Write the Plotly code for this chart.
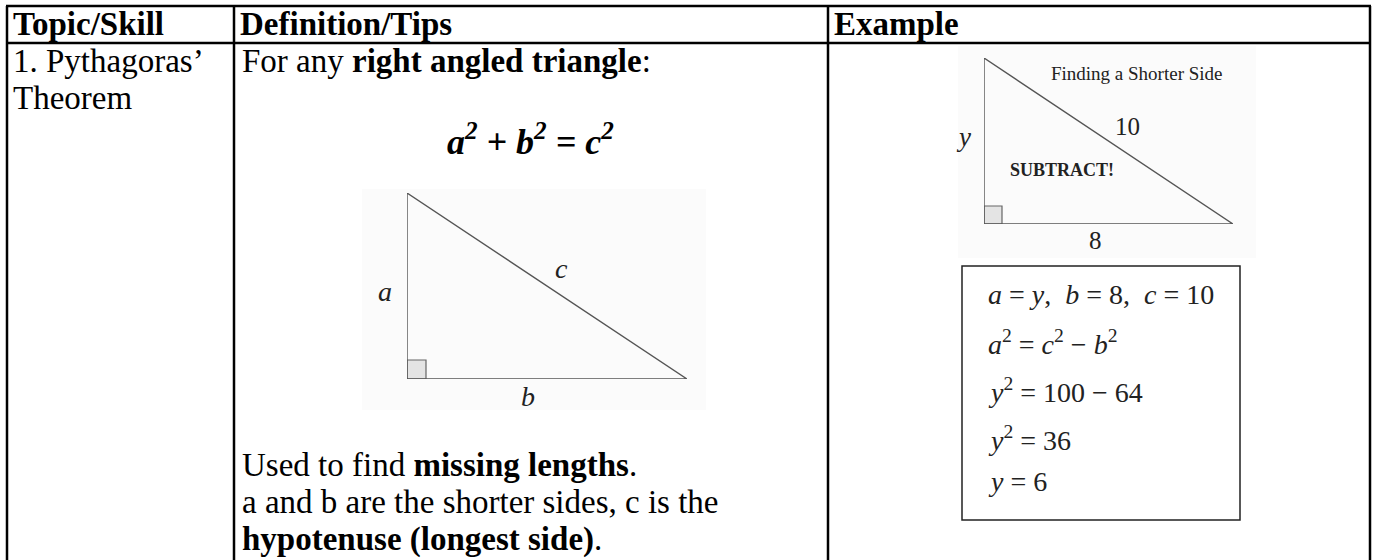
import plotly.graph_objects as go

W, H = 1375, 560

# ---- content ----
headers = ["Topic/Skill", "Definition/Tips", "Example"]
topic_lines = ["1. Pythagoras’", "Theorem"]
intro_line = "For any <b>right angled triangle</b>:"
formula = "a<sup>2</sup> + b<sup>2</sup> = c<sup>2</sup>"
tip_lines = [
    "Used to find <b>missing lengths</b>.",
    "a and b are the shorter sides, c is the",
    "<b>hypotenuse (longest side)</b>.",
]
side_labels = ["a", "b", "c"]          # vertical leg, horizontal leg, hypotenuse
general_legs = [6, 9]                  # drawn proportions of the general triangle
example_legs = [6, 8]                  # y (unknown) and 8
example_hyp = 10
example_labels = ["y", "8", "10"]
example_title = "Finding a Shorter Side"
example_note = "SUBTRACT!"
working_lines = [
    "<i>a</i> = <i>y</i>,  <i>b</i> = 8,  <i>c</i> = 10",
    "<i>a</i><sup>2</sup> = <i>c</i><sup>2</sup> − <i>b</i><sup>2</sup>",
    "<i>y</i><sup>2</sup> = 100 − 64",
    "<i>y</i><sup>2</sup> = 36",
    "<i>y</i> = 6",
]

# ---- layout geometry (pixels) ----
col_edges = [7, 234, 828, 1370]
row_lines = [6, 43]
SERIF = "Liberation Serif"
FS = 33

def px(x):
    return x / W

def py(y):
    return 1 - y / H

fig = go.Figure()

fig.update_layout(
    width=W, height=H,
    margin=dict(l=0, r=0, t=0, b=0),
    paper_bgcolor="white", plot_bgcolor="rgba(0,0,0,0)",
    showlegend=False,
    xaxis=dict(range=[0, W], visible=False, domain=[0, 1], fixedrange=True),
    yaxis=dict(range=[H, 0], visible=False, domain=[0, 1], fixedrange=True),
)

shapes = []
# picture backgrounds
shapes.append(dict(type="rect", xref="x", yref="y", x0=362, x1=706, y0=189, y1=410,
                   fillcolor="rgb(251,251,251)", line=dict(width=0), layer="below"))
shapes.append(dict(type="rect", xref="x", yref="y", x0=958, x1=1256, y0=46, y1=258,
                   fillcolor="rgb(251,251,251)", line=dict(width=0), layer="below"))
# table grid
for yv in row_lines:
    shapes.append(dict(type="line", xref="x", yref="y", x0=col_edges[0] - 1, x1=col_edges[-1] + 1,
                       y0=yv, y1=yv, line=dict(color="black", width=2.5)))
for xv in col_edges:
    shapes.append(dict(type="line", xref="x", yref="y", x0=xv, x1=xv,
                       y0=row_lines[0], y1=H + 5, line=dict(color="black", width=2.5)))
# working box
shapes.append(dict(type="rect", xref="x", yref="y", x0=962, x1=1240, y0=266, y1=520,
                   fillcolor="white", line=dict(color="#222", width=1.5)))

# ---- triangles drawn in their own axes ----
def add_triangle(idx, legs, x0, x1, y_top, y_bot, sq_px):
    a, b = legs
    xa, ya = f"xaxis{idx}", f"yaxis{idx}"
    fig.update_layout(**{
        xa: dict(domain=[px(x0), px(x1)], range=[0, b], visible=False, fixedrange=True,
                 anchor=f"y{idx}"),
        ya: dict(domain=[py(y_bot), py(y_top)], range=[0, a], visible=False, fixedrange=True,
                 anchor=f"x{idx}"),
    })
    sx = sq_px * b / (x1 - x0)
    sy = sq_px * a / (y_bot - y_top)
    fig.add_trace(go.Scatter(x=[0, sx, sx, 0, 0], y=[0, 0, sy, sy, 0], mode="lines",
                             fill="toself", fillcolor="rgb(228,228,228)",
                             line=dict(color="#666", width=1.2),
                             xaxis=f"x{idx}", yaxis=f"y{idx}", hoverinfo="skip"))
    fig.add_trace(go.Scatter(x=[0, 0, b, 0], y=[a, 0, 0, a], mode="lines",
                             line=dict(color="#555", width=1.4),
                             xaxis=f"x{idx}", yaxis=f"y{idx}", hoverinfo="skip"))

add_triangle(2, general_legs, 407, 687, 193, 379, 19)
add_triangle(3, example_legs, 984, 1233, 58, 224, 18)

ann = []

def text(x, y, s, size=FS, xanchor="left", color="black", family=SERIF,
         weight="normal", style="normal"):
    ann.append(dict(x=x, y=y, xref="x", yref="y", text=s, showarrow=False,
                    xanchor=xanchor, yanchor="middle",
                    font=dict(family=family, size=size, color=color,
                              weight=weight, style=style)))

# headers
for i, hname in enumerate(headers):
    text(col_edges[i] + 4, 24, hname, weight="bold")

# topic column
for i, t in enumerate(topic_lines):
    text(col_edges[0] + 4, 61 + i * 37, t)

# definition column
text(col_edges[1] + 6, 61, intro_line)
text(530, 139, formula, size=36, xanchor="center", weight="bold", style="italic")
for i, t in enumerate(tip_lines):
    text(col_edges[1] + 6, 465 + i * 37, t)

# general triangle labels
text(385, 291, side_labels[0], size=28, xanchor="center", color="#222", style="italic")
text(528, 396, side_labels[1], size=28, xanchor="center", color="#222", style="italic")
text(561, 268, side_labels[2], size=28, xanchor="center", color="#222", style="italic")

# example triangle labels
text(1137, 73, example_title, size=19, xanchor="center", color="#222")
text(1127, 126, example_labels[2], size=25, xanchor="center", color="#222")
text(1062, 170, example_note, size=18, xanchor="center", color="#222", weight="bold")
text(1095, 240, example_labels[1], size=25, xanchor="center", color="#222")
text(963, 137, example_labels[0], size=27, xanchor="center", color="#222", style="italic")

# working lines
for i, t in enumerate(working_lines):
    text(986, 294 + i * 48 - (i >= 4) * 5, t, size=28, color="#222")

fig.update_layout(shapes=shapes, annotations=ann)
fig.write_html(
    "out.html",
    config={"displayModeBar": False, "staticPlot": True},
    post_script="document.body.style.margin='0px';document.body.style.overflow='hidden';",
)
